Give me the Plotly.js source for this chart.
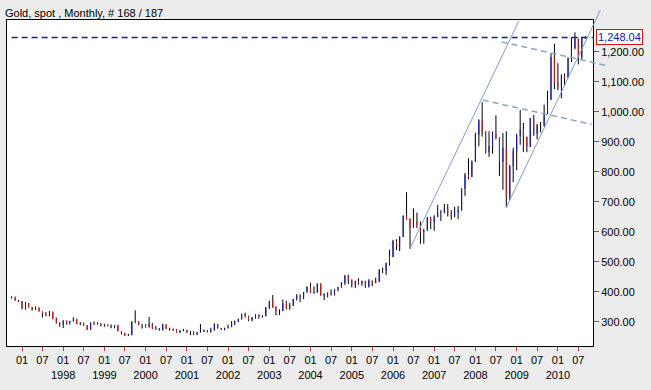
<!DOCTYPE html>
<html>
<head>
<meta charset="utf-8">
<script src="https://cdn.plot.ly/plotly-3.0.1.min.js"></script>
<style>
  html, body { margin: 0; padding: 0; background: #ececec; }
  #chart { width: 651px; height: 390px; }
</style>
</head>
<body>
<div id="chart"></div>
<script>
// ---- Data: Gold spot, monthly OHLC, Oct 1996 .. Sep 2010 (168 bars) ----
const firstMonth = '1996-10';

const open = [
  380, 379, 371,
  369, 345, 362, 349, 340, 345, 334, 326, 325, 333, 311, 297,
  290, 303, 297, 301, 309, 293, 296, 288, 273, 294, 292, 294,
  288, 287, 287, 280, 286, 268, 262, 255, 255, 299, 300, 292,
  290, 283, 293, 277, 274, 272, 290, 276, 277, 273, 264, 270,
  273, 265, 267, 258, 264, 266, 271, 266, 273, 293, 279, 275,
  279, 282, 297, 302, 309, 326, 318, 305, 313, 324, 317, 318,
  347, 368, 348, 335, 336, 361, 346, 354, 375, 385, 386, 398,
  416, 400, 397, 427, 387, 393, 395, 391, 408, 416, 428, 453,
  438, 422, 435, 428, 435, 417, 437, 429, 433, 473, 470, 495,
  517, 569, 556, 582, 654, 643, 614, 633, 623, 599, 604, 646,
  632, 650, 665, 662, 677, 659, 650, 665, 673, 743, 789, 783,
  834, 923, 971, 933, 865, 886, 926, 913, 833, 880, 718, 819,
  869, 919, 942, 916, 884, 979, 927, 955, 955, 996, 1040, 1182,
  1096, 1081, 1118, 1113, 1180, 1213, 1244, 1181, 1247
];
const high = [
  385, 384, 373,
  369, 366, 362, 349, 351, 348, 334, 332, 336, 334, 314, 298,
  305, 304, 303, 315, 310, 299, 297, 289, 298, 301, 298, 295,
  293, 291, 291, 289, 290, 268, 263, 260, 302, 338, 302, 293,
  292, 316, 296, 286, 279, 293, 291, 280, 277, 275, 272, 276,
  273, 269, 268, 266, 292, 274, 272, 280, 294, 293, 279, 280,
  290, 302, 304, 310, 327, 330, 320, 316, 325, 324, 322, 349,
  370, 389, 352, 341, 374, 370, 363, 376, 392, 391, 399, 418,
  430, 418, 428, 428, 395, 398, 408, 409, 416, 432, 456, 457,
  441, 437, 445, 437, 436, 442, 437, 447, 475, 480, 497, 540,
  573, 575, 585, 654, 732, 645, 678, 664, 634, 610, 650, 650,
  655, 690, 672, 693, 692, 672, 683, 686, 745, 796, 845, 838,
  930, 975, 1032, 935, 935, 934, 988, 915, 929, 935, 823, 880,
  927, 1006, 963, 917, 980, 989, 960, 966, 1024, 1070, 1195, 1227,
  1162, 1125, 1128, 1181, 1249, 1265, 1244, 1250, 1252
];
const low = [
  377, 370, 366,
  341, 340, 347, 337, 340, 334, 314, 318, 318, 308, 294, 283,
  279, 290, 291, 301, 292, 288, 286, 272, 273, 289, 290, 284,
  283, 284, 278, 278, 268, 257, 252, 252, 255, 295, 288, 277,
  280, 280, 275, 273, 270, 271, 276, 270, 269, 264, 263, 268,
  262, 255, 255, 255, 264, 266, 264, 264, 270, 277, 272, 271,
  277, 282, 289, 299, 307, 314, 302, 301, 310, 310, 314, 318,
  343, 346, 321, 322, 335, 341, 340, 352, 371, 366, 375, 397,
  396, 393, 397, 387, 372, 381, 387, 387, 401, 413, 423, 426,
  414, 412, 424, 420, 413, 414, 418, 428, 432, 462, 456, 487,
  515, 539, 535, 582, 640, 543, 613, 612, 560, 560, 603, 608,
  603, 648, 636, 662, 651, 640, 648, 642, 670, 720, 775, 782,
  833, 885, 917, 861, 850, 860, 908, 786, 740, 681, 705, 765,
  805, 890, 866, 865, 883, 920, 908, 931, 950, 992, 1040, 1075,
  1072, 1045, 1088, 1112, 1166, 1208, 1158, 1175, 1243
];
const close = [
  379, 371, 369,
  345, 362, 349, 340, 345, 334, 326, 325, 333, 311, 297, 290,
  303, 297, 301, 309, 293, 296, 288, 273, 294, 292, 294, 288,
  287, 287, 280, 286, 268, 262, 255, 255, 299, 300, 292, 290,
  283, 293, 277, 274, 272, 290, 276, 277, 273, 264, 270, 273,
  265, 267, 258, 264, 266, 271, 266, 273, 293, 279, 275, 279,
  282, 297, 302, 309, 326, 318, 305, 313, 324, 317, 318, 347,
  368, 348, 335, 336, 361, 346, 354, 375, 385, 386, 398, 416,
  400, 397, 427, 387, 393, 395, 391, 408, 416, 428, 453, 438,
  422, 435, 428, 435, 417, 437, 429, 433, 473, 470, 495, 517,
  569, 556, 582, 654, 643, 614, 633, 623, 599, 604, 646, 632,
  650, 665, 662, 677, 659, 650, 665, 673, 743, 789, 783, 834,
  923, 971, 933, 865, 886, 926, 913, 833, 880, 718, 819, 869,
  919, 942, 916, 884, 979, 927, 955, 955, 996, 1040, 1182, 1096,
  1081, 1118, 1113, 1180, 1213, 1244, 1181, 1248, 1248.04
];

// x tick positions and labels
const tickVals = [
  '1997-01-01','1997-07-01','1998-01-01','1998-07-01','1999-01-01','1999-07-01',
  '2000-01-01','2000-07-01','2001-01-01','2001-07-01','2002-01-01','2002-07-01',
  '2003-01-01','2003-07-01','2004-01-01','2004-07-01','2005-01-01','2005-07-01',
  '2006-01-01','2006-07-01','2007-01-01','2007-07-01','2008-01-01','2008-07-01',
  '2009-01-01','2009-07-01','2010-01-01','2010-07-01'
];
const tickText = [
  '01','07','01<br>1998','07','01<br>1999','07',
  '01<br>2000','07','01<br>2001','07','01<br>2002','07',
  '01<br>2003','07','01<br>2004','07','01<br>2005','07',
  '01<br>2006','07','01<br>2007','07','01<br>2008','07',
  '01<br>2009','07','01<br>2010','07'
];
// y tick values (price axis)
const priceTicks = [300, 400, 500, 600, 700, 800, 900, 1000, 1100, 1200];

// hand-drawn trend lines (start/end date and price)
const trendStartDate = ['2006-06-01', '2008-10-01', '2008-03-07', '2008-08-22'];
const trendStartVal  = [544, 681, 1039, 1233];
const trendEndDate   = ['2009-01-19', '2011-01-13', '2010-10-28', '2011-03-22'];
const trendEndVal    = [1302, 1339, 958, 1153];

// ---- Build ----
const dates = [];
{
  let y = parseInt(firstMonth.slice(0, 4), 10), m = parseInt(firstMonth.slice(5, 7), 10);
  for (let i = 0; i < close.length; i++) {
    dates.push(y + '-' + String(m).padStart(2, '0') + '-01');
    m++; if (m > 12) { m = 1; y++; }
  }
}
const bodyHigh = open.map((o, i) => Math.max(o, close[i]));
const bodyLow = open.map((o, i) => Math.min(o, close[i]));

const xRange = ['1996-08-21', '2010-11-08'];
const yRange = [219, 1306];

const toPX = d => (Date.parse(d) - Date.parse(xRange[0])) / (Date.parse(xRange[1]) - Date.parse(xRange[0]));
const toPY = v => (v - yRange[0]) / (yRange[1] - yRange[0]);

const lastClose = close[close.length - 1];
const fmt = v => v.toLocaleString('en-US', { minimumFractionDigits: 2, maximumFractionDigits: 2 });
const lastText = fmt(lastClose);

const traces = [
  {
    type: 'ohlc', x: dates, open: open, high: high, low: low, close: close,
    tickwidth: 0,
    increasing: { line: { color: '#000000', width: 1 } },
    decreasing: { line: { color: '#000000', width: 1 } },
    hoverinfo: 'skip', showlegend: false
  },
  {
    type: 'ohlc', x: dates, open: open, high: bodyHigh, low: bodyLow, close: close,
    tickwidth: 0,
    increasing: { line: { color: '#1414c8', width: 1 } },
    decreasing: { line: { color: '#dc1414', width: 1 } },
    hoverinfo: 'skip', showlegend: false
  }
];

const trendStyles = [
  { color: '#7d9dd0', width: 1, dash: 'solid' },
  { color: '#7d9dd0', width: 1, dash: 'solid' },
  { color: '#8ea2c2', width: 1.5, dash: '6px,4px' },
  { color: '#8ea2c2', width: 1.5, dash: '6px,4px' }
];

const shapes = [
  {
    type: 'line', xref: 'x', yref: 'y',
    x0: dates[0], x1: xRange[1], y0: lastClose, y1: lastClose,
    line: { color: '#1a1aa8', width: 1.5, dash: '6px,4px' }
  }
];
trendStartDate.forEach((d, i) => {
  shapes.push({
    type: 'line', xref: 'paper', yref: 'paper',
    x0: toPX(d), y0: toPY(trendStartVal[i]),
    x1: toPX(trendEndDate[i]), y1: toPY(trendEndVal[i]),
    line: trendStyles[i]
  });
});

const font = { family: '"Liberation Sans", Arial, sans-serif', size: 11, color: '#000000' };

const layout = {
  width: 651, height: 390,
  margin: { l: 7, r: 58, t: 20, b: 44, pad: 0 },
  paper_bgcolor: '#ececec',
  plot_bgcolor: '#ffffff',
  font: font,
  showlegend: false,
  hovermode: false,
  title: {
    text: 'Gold, spot , Monthly, # 168 / 187',
    font: font,
    x: 5 / 651, xref: 'container', xanchor: 'left',
    y: 1 - 13 / 390, yref: 'container', yanchor: 'middle'
  },
  xaxis: {
    type: 'date',
    range: xRange,
    tickmode: 'array', tickvals: tickVals, ticktext: tickText,
    ticks: 'outside', ticklen: 4, tickcolor: '#c03a3a', tickwidth: 1,
    showline: true, mirror: true, linecolor: '#000000', linewidth: 1,
    showgrid: false, zeroline: false,
    tickfont: font,
    rangeslider: { visible: false },
    fixedrange: true
  },
  yaxis: {
    side: 'right',
    range: yRange,
    tickmode: 'array', tickvals: priceTicks, ticktext: priceTicks.map(fmt),
    ticks: 'outside', ticklen: 5, tickcolor: '#c03a3a', tickwidth: 1,
    showline: true, mirror: true, linecolor: '#000000', linewidth: 1,
    showgrid: false, zeroline: false,
    tickfont: font,
    fixedrange: true
  },
  shapes: shapes,
  annotations: [
    {
      xref: 'paper', yref: 'y', x: 1, y: lastClose,
      xanchor: 'left', yanchor: 'middle', xshift: 3,
      text: lastText, showarrow: false,
      font: { family: font.family, size: 11, color: '#1414c0' },
      bgcolor: '#ffffff', bordercolor: '#e01010', borderwidth: 1, borderpad: 1
    }
  ]
};

Plotly.newPlot('chart', traces, layout, { displayModeBar: false, staticPlot: true });
</script>
</body>
</html>
